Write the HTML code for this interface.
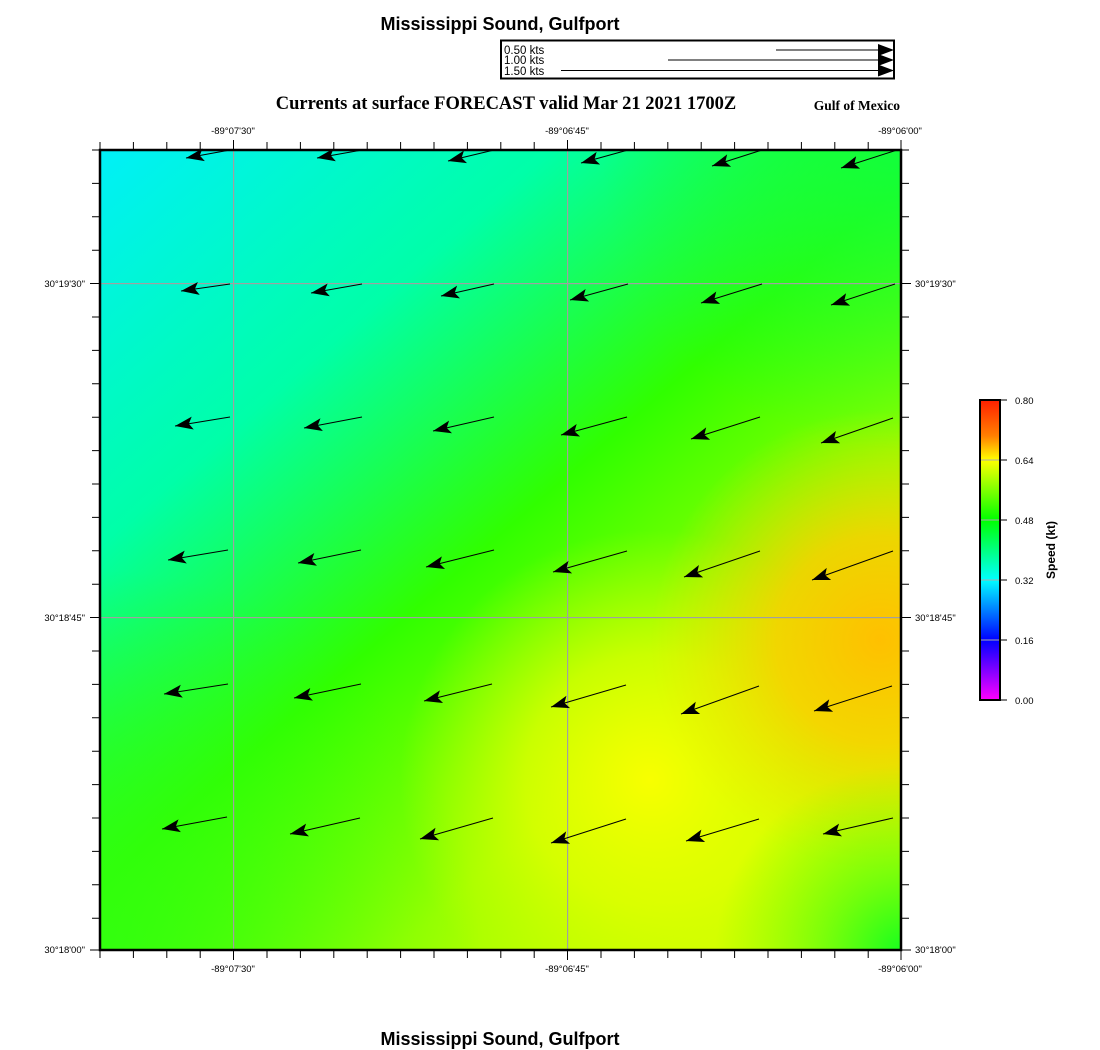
<!DOCTYPE html>
<html><head><meta charset="utf-8"><style>
body{margin:0;background:#fff;width:1100px;height:1050px;overflow:hidden}
svg{display:block}
.t{font-family:"Liberation Sans",sans-serif}
.s{font-family:"Liberation Serif",serif}
</style></head><body>
<svg width="1100" height="1050" viewBox="0 0 1100 1050" xmlns="http://www.w3.org/2000/svg">
<defs>
<linearGradient id="base" x1="100" y1="150" x2="800" y2="950" gradientUnits="userSpaceOnUse">
<stop offset="0" stop-color="#00f0f8"/>
<stop offset="0.28" stop-color="#00ffa8"/>
<stop offset="0.52" stop-color="#30ff00"/>
<stop offset="0.75" stop-color="#a0ff00"/>
<stop offset="1" stop-color="#d8ff00"/>
</linearGradient>
<radialGradient id="yel" cx="650" cy="780" r="250" gradientUnits="userSpaceOnUse">
<stop offset="0" stop-color="#f8ff00" stop-opacity="1"/>
<stop offset="0.5" stop-color="#e8ff00" stop-opacity="0.7"/>
<stop offset="1" stop-color="#d0ff00" stop-opacity="0"/>
</radialGradient>
<radialGradient id="org" cx="880" cy="640" r="230" gradientUnits="userSpaceOnUse">
<stop offset="0" stop-color="#ffc000" stop-opacity="1"/>
<stop offset="0.45" stop-color="#ffcc00" stop-opacity="0.8"/>
<stop offset="1" stop-color="#f0e000" stop-opacity="0"/>
</radialGradient>
<radialGradient id="grn" cx="905" cy="955" r="190" gradientUnits="userSpaceOnUse">
<stop offset="0" stop-color="#10ff20" stop-opacity="1"/>
<stop offset="1" stop-color="#60ff00" stop-opacity="0"/>
</radialGradient>
<radialGradient id="tr" cx="900" cy="150" r="300" gradientUnits="userSpaceOnUse">
<stop offset="0" stop-color="#10ff40" stop-opacity="0.9"/>
<stop offset="1" stop-color="#10ff40" stop-opacity="0"/>
</radialGradient>
<radialGradient id="bl" cx="100" cy="950" r="380" gradientUnits="userSpaceOnUse">
<stop offset="0" stop-color="#30ff10" stop-opacity="0.9"/>
<stop offset="1" stop-color="#30ff10" stop-opacity="0"/>
</radialGradient>
<linearGradient id="cb" x1="0" y1="0" x2="0" y2="1">
<stop offset="0" stop-color="#ff2000"/>
<stop offset="0.12" stop-color="#ff8000"/>
<stop offset="0.2" stop-color="#ffff00"/>
<stop offset="0.4" stop-color="#00ff00"/>
<stop offset="0.6" stop-color="#00ffff"/>
<stop offset="0.8" stop-color="#0000ff"/>
<stop offset="1" stop-color="#ff00ff"/>
</linearGradient>
<marker id="ah" markerWidth="22" markerHeight="16" viewBox="-20 -8 22 16" refX="0" refY="0" orient="auto" markerUnits="userSpaceOnUse">
<path d="M0,0 L-18,-6.5 L-14,0 L-18,6.5 Z" fill="#000"/>
</marker>
</defs>

<text class="t" x="500" y="30" font-size="18" font-weight="bold" text-anchor="middle">Mississippi Sound, Gulfport</text>
<text class="t" x="500" y="1045" font-size="18" font-weight="bold" text-anchor="middle">Mississippi Sound, Gulfport</text>

<rect x="501" y="40.5" width="393" height="38" fill="#fff" stroke="#000" stroke-width="2"/>
<g class="t" font-size="11.5">
<text x="504" y="54">0.50 kts</text>
<text x="504" y="64">1.00 kts</text>
<text x="504" y="75">1.50 kts</text>
</g>
<g stroke="#000" stroke-width="1">
<line x1="776" y1="50" x2="880" y2="50"/>
<line x1="668" y1="60" x2="880" y2="60"/>
<line x1="561" y1="70.5" x2="880" y2="70.5"/>
</g>
<g fill="#000">
<path d="M878,44 L894,50 L878,56 Z"/>
<path d="M878,54 L894,60 L878,66 Z"/>
<path d="M878,64.5 L894,70.5 L878,76.5 Z"/>
</g>

<text class="s" x="506" y="109" font-size="18.5" font-weight="bold" text-anchor="middle">Currents at surface FORECAST valid Mar 21 2021 1700Z</text>
<text class="s" x="900" y="110" font-size="13.5" font-weight="bold" text-anchor="end">Gulf of Mexico</text>

<rect x="100" y="150" width="801" height="800" fill="url(#base)"/>
<rect x="100" y="150" width="801" height="800" fill="url(#tr)"/>
<rect x="100" y="150" width="801" height="800" fill="url(#bl)"/>
<rect x="100" y="150" width="801" height="800" fill="url(#yel)"/>
<rect x="100" y="150" width="801" height="800" fill="url(#org)"/>
<rect x="100" y="150" width="801" height="800" fill="url(#grn)"/>

<g fill="#a0a0a0">
<rect x="233" y="150" width="1.2" height="800"/>
<rect x="567" y="150" width="1.2" height="800"/>
<rect x="100" y="283" width="801" height="1.2"/>
<rect x="100" y="617" width="801" height="1.2"/>
</g>

<g stroke="#000" stroke-width="1" fill="none" marker-end="url(#ah)">
<path d="M230,150 L186,158"/><path d="M362,150 L317,158"/><path d="M494,150 L448,161"/><path d="M628,150 L581,163"/><path d="M762,150 L712,166"/><path d="M897,150 L841,168"/>
<path d="M230,284 L181,291"/><path d="M362,284 L311,293"/><path d="M494,284 L441,296"/><path d="M628,284 L570,300"/><path d="M762,284 L701,303"/><path d="M895,284 L831,305"/>
<path d="M230,417 L175,426"/><path d="M362,417 L304,428"/><path d="M494,417 L433,431"/><path d="M627,417 L561,435"/><path d="M760,417 L691,439"/><path d="M893,418 L821,443"/>
<path d="M228,550 L168,560"/><path d="M361,550 L298,563"/><path d="M494,550 L426,567"/><path d="M627,551 L553,572"/><path d="M760,551 L684,577"/><path d="M893,551 L812,580"/>
<path d="M228,684 L164,694"/><path d="M361,684 L294,698"/><path d="M492,684 L424,701"/><path d="M626,685 L551,707"/><path d="M759,686 L681,714"/><path d="M892,686 L814,711"/>
<path d="M227,817 L162,829"/><path d="M360,818 L290,834"/><path d="M493,818 L420,839"/><path d="M626,819 L551,843"/><path d="M759,819 L686,841"/><path d="M893,818 L823,834"/>
</g>

<rect x="100" y="150" width="801" height="800" fill="none" stroke="#000" stroke-width="2.5"/>
<g stroke="#000" stroke-width="1">
<path d="M100,150v-8M133.4,150v-8M166.8,150v-8M200.2,150v-8M233.5,150v-10M267,150v-8M300.4,150v-8M333.8,150v-8M367.2,150v-8M400.6,150v-8M434,150v-8M467.4,150v-8M500.8,150v-8M534.2,150v-8M567.5,150v-10M601,150v-8M634.4,150v-8M667.8,150v-8M701.2,150v-8M734.6,150v-8M768,150v-8M801.4,150v-8M834.8,150v-8M868.2,150v-8M901,150v-10"/>
<path d="M100,950v8M133.4,950v8M166.8,950v8M200.2,950v8M233.5,950v10M267,950v8M300.4,950v8M333.8,950v8M367.2,950v8M400.6,950v8M434,950v8M467.4,950v8M500.8,950v8M534.2,950v8M567.5,950v10M601,950v8M634.4,950v8M667.8,950v8M701.2,950v8M734.6,950v8M768,950v8M801.4,950v8M834.8,950v8M868.2,950v8M901,950v10"/>
<path d="M100,150h-8M100,183.4h-8M100,216.8h-8M100,250.2h-8M100,283.5h-10M100,317h-8M100,350.4h-8M100,383.8h-8M100,417.2h-8M100,450.6h-8M100,484h-8M100,517.4h-8M100,550.8h-8M100,584.2h-8M100,617.5h-10M100,651h-8M100,684.4h-8M100,717.8h-8M100,751.2h-8M100,784.6h-8M100,818h-8M100,851.4h-8M100,884.8h-8M100,918.2h-8M100,950h-10"/>
<path d="M901,150h8M901,183.4h8M901,216.8h8M901,250.2h8M901,283.5h10M901,317h8M901,350.4h8M901,383.8h8M901,417.2h8M901,450.6h8M901,484h8M901,517.4h8M901,550.8h8M901,584.2h8M901,617.5h10M901,651h8M901,684.4h8M901,717.8h8M901,751.2h8M901,784.6h8M901,818h8M901,851.4h8M901,884.8h8M901,918.2h8M901,950h10"/>
</g>

<g class="t" font-size="9.5" fill="#000">
<text x="233" y="134" text-anchor="middle">-89°07'30"</text>
<text x="567" y="134" text-anchor="middle">-89°06'45"</text>
<text x="900" y="134" text-anchor="middle">-89°06'00"</text>
<text x="233" y="972" text-anchor="middle">-89°07'30"</text>
<text x="567" y="972" text-anchor="middle">-89°06'45"</text>
<text x="900" y="972" text-anchor="middle">-89°06'00"</text>
<text x="85" y="287" text-anchor="end">30°19'30"</text>
<text x="85" y="621" text-anchor="end">30°18'45"</text>
<text x="85" y="953" text-anchor="end">30°18'00"</text>
<text x="915" y="287">30°19'30"</text>
<text x="915" y="621">30°18'45"</text>
<text x="915" y="953">30°18'00"</text>
</g>

<rect x="980" y="400" width="20" height="300" fill="url(#cb)" stroke="#000" stroke-width="2"/>
<g stroke="#aaa" stroke-width="1">
<line x1="981" y1="460" x2="999" y2="460"/><line x1="981" y1="520" x2="999" y2="520"/><line x1="981" y1="580" x2="999" y2="580"/><line x1="981" y1="640" x2="999" y2="640"/>
</g>
<g stroke="#000" stroke-width="1">
<line x1="1000" y1="400" x2="1007" y2="400"/><line x1="1000" y1="460" x2="1007" y2="460"/><line x1="1000" y1="520" x2="1007" y2="520"/><line x1="1000" y1="580" x2="1007" y2="580"/><line x1="1000" y1="640" x2="1007" y2="640"/><line x1="1000" y1="700" x2="1007" y2="700"/>
</g>
<g class="t" font-size="9.5">
<text x="1015" y="404">0.80</text><text x="1015" y="464">0.64</text><text x="1015" y="524">0.48</text><text x="1015" y="584">0.32</text><text x="1015" y="644">0.16</text><text x="1015" y="704">0.00</text>
</g>
<text class="t" x="0" y="0" font-size="12" font-weight="bold" text-anchor="middle" transform="translate(1055,550) rotate(-90)">Speed (kt)</text>
</svg>
</body></html>
